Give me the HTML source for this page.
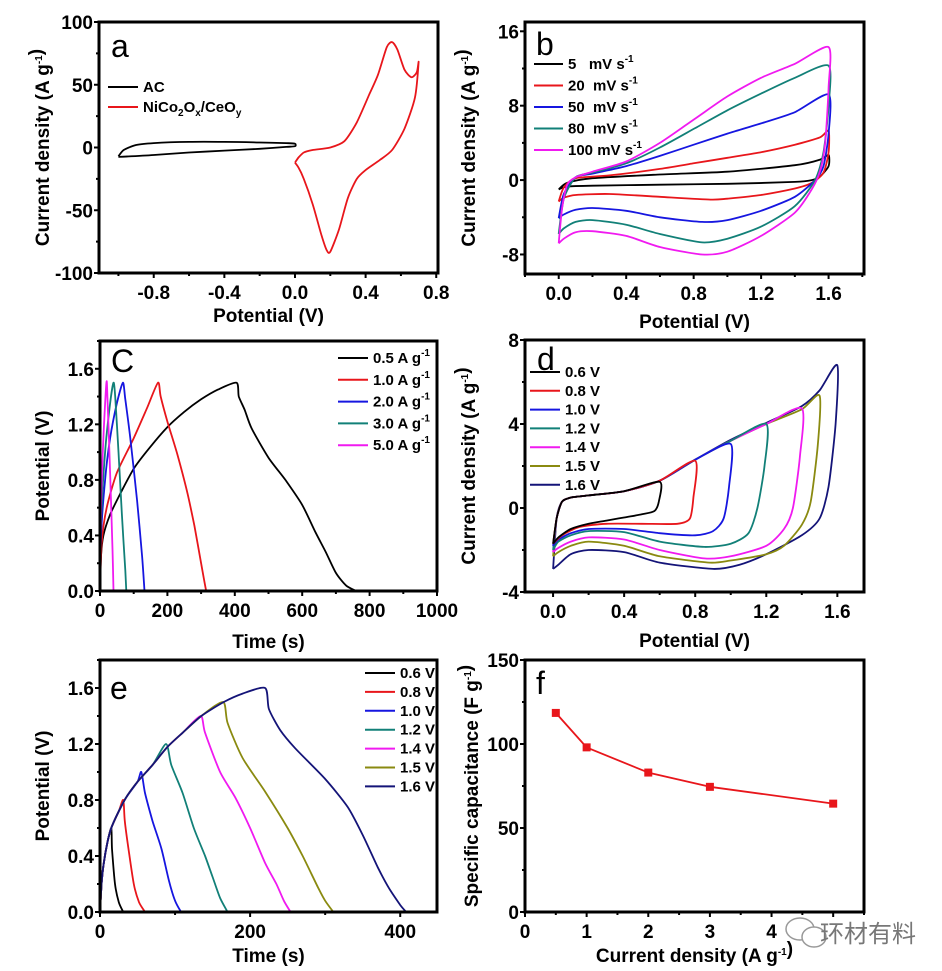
<!DOCTYPE html>
<html><head><meta charset="utf-8">
<style>
html,body{margin:0;padding:0;background:#fff;}
svg{display:block;font-family:"Liberation Sans",Arial,sans-serif;}
.tk{font-weight:bold;font-size:19px;fill:#000;}
.tt{font-weight:bold;font-size:19px;fill:#000;}
.lg{font-weight:bold;font-size:15px;fill:#000;}
.pl{font-size:32px;fill:#000;}
</style></head>
<body>
<svg id="fig" width="942" height="971" viewBox="0 0 942 971" xmlns="http://www.w3.org/2000/svg"></svg>
<script>
// ---------- data ----------
// Panel a
const aACx=[-1.0,-0.97,-0.9,-0.8,-0.6,-0.4,-0.2,-0.05,0,0,-0.05,-0.2,-0.4,-0.6,-0.8,-1.0];
const aACy=[-7,-2,2,3.5,4.5,4.5,4,3.5,3,1,0.5,-1,-2.5,-4,-6,-7.5];
const aNiX=[0,0.02,0.05,0.1,0.2,0.28,0.35,0.42,0.47,0.52,0.55,0.58,0.62,0.66,0.69,0.70,0.68,0.62,0.55,0.48,0.40,0.35,0.30,0.25,0.2,0.18,0.15,0.1,0.05,0.02,0];
const aNiY=[-12,-8,-4,-2,0,5,20,42,58,80,84,78,62,56,60,68,40,15,-2,-10,-18,-25,-40,-65,-83,-82,-70,-45,-25,-16,-12];
// Panel b
const b5x=[0,0.05,0.2,0.6,1.0,1.4,1.55,1.6,1.6,1.55,1.5,1.4,1.0,0.6,0.2,0.05,0];
const b5y=[-1,-0.3,0.2,0.6,0.9,1.6,2.2,2.7,1.5,0.4,0,-0.2,-0.4,-0.5,-0.6,-0.7,-1];
const b20x=[0,0.03,0.1,0.3,0.6,0.8,1.0,1.2,1.4,1.55,1.6,1.6,1.57,1.5,1.4,1.2,1.0,0.9,0.6,0.3,0.1,0.03,0];
const b20y=[-2.3,-0.8,0.2,0.5,1.2,1.8,2.4,3,3.8,4.6,5.3,3,0.8,-0.3,-0.9,-1.6,-2,-2.1,-1.8,-1.5,-1.6,-1.9,-2.3];
const b50x=[0,0.03,0.1,0.2,0.4,0.6,0.8,1.0,1.2,1.4,1.6,1.6,1.57,1.52,1.4,1.2,1.0,0.85,0.6,0.4,0.2,0.1,0.03,0];
const b50y=[-4.1,-1.5,0.3,0.7,1.5,2.6,3.8,5,6.1,7.3,9.2,5,1.5,0,-1.8,-3.3,-4.3,-4.5,-4,-3.3,-3,-3.2,-3.7,-4.1];
const b80x=[0,0.03,0.1,0.2,0.4,0.6,0.8,1.0,1.2,1.4,1.6,1.6,1.57,1.52,1.4,1.2,1.0,0.85,0.6,0.4,0.2,0.1,0.03,0];
const b80y=[-5.8,-2,0.3,0.8,1.8,3.5,5.5,7.5,9.3,11,12.3,8,3,0,-2.8,-5,-6.3,-6.7,-5.8,-4.8,-4.3,-4.5,-5.2,-5.8];
const b100x=[0,0.02,0.05,0.1,0.2,0.4,0.6,0.8,1.0,1.2,1.4,1.6,1.6,1.58,1.55,1.5,1.4,1.2,1.0,0.85,0.6,0.4,0.2,0.1,0.03,0];
const b100y=[-6.8,-3,-0.5,0.3,0.9,2,4,6.5,9,11,12.5,14.3,10,4,1,-1,-3.5,-6,-7.7,-8,-7.2,-6,-5.5,-5.6,-6.3,-6.8];
// Panel c
const cBx=[0,3,10,30,60,100,150,200,250,300,350,405,412,430,450,500,550,600,640,670,700,730,760];
const cBy=[0,0.25,0.4,0.55,0.7,0.88,1.04,1.18,1.29,1.38,1.45,1.5,1.4,1.3,1.17,0.96,0.8,0.62,0.42,0.28,0.13,0.04,0];
const cRx=[0,5,20,50,100,140,172,180,200,230,260,280,300,315];
const cRy=[0,0.35,0.6,0.85,1.1,1.32,1.5,1.4,1.22,0.98,0.7,0.47,0.2,0];
const cBlx=[0,3,15,30,50,68,75,90,110,125,132];
const cBly=[0,0.4,0.8,1.1,1.35,1.5,1.38,1.1,0.65,0.25,0];
const cTx=[0,3,15,30,40,45,55,65,75,78];
const cTy=[0,0.5,1.0,1.35,1.5,1.4,1.0,0.55,0.15,0];
const cMx=[0,3,10,19,22,30,37,40];
const cMy=[0,0.6,1.1,1.5,1.4,0.85,0.3,0];
// Panel d
const d06x=[0,0.02,0.05,0.1,0.2,0.4,0.6,0.595,0.57,0.5,0.4,0.3,0.2,0.1,0.03,0];
const d06y=[-1.7,-0.5,0.3,0.5,0.6,0.8,1.25,0.3,-0.15,-0.3,-0.45,-0.6,-0.75,-1.0,-1.4,-1.7];
const d08x=[0,0.02,0.05,0.1,0.2,0.4,0.6,0.8,0.79,0.77,0.7,0.5,0.3,0.15,0.05,0];
const d08y=[-1.7,-0.5,0.3,0.5,0.6,0.8,1.3,2.25,0.5,-0.5,-0.75,-0.75,-0.75,-0.9,-1.3,-1.7];
const d10x=[0,0.02,0.05,0.1,0.2,0.4,0.6,0.8,1.0,0.99,0.96,0.9,0.8,0.6,0.4,0.2,0.1,0.03,0];
const d10y=[-1.8,-0.5,0.3,0.5,0.6,0.8,1.3,2.3,3.05,1,-0.5,-1.1,-1.3,-1.2,-1,-1,-1.2,-1.5,-1.8];
const d12x=[0,0.02,0.05,0.1,0.2,0.4,0.6,0.8,1.0,1.2,1.19,1.15,1.1,1.0,0.85,0.6,0.4,0.2,0.1,0.03,0];
const d12y=[-2,-0.5,0.3,0.5,0.6,0.8,1.3,2.3,3.2,4.0,2,0,-1.2,-1.7,-1.85,-1.6,-1.15,-1.1,-1.3,-1.6,-2];
const d14x=[0,0.02,0.05,0.1,0.2,0.4,0.6,0.8,1.0,1.2,1.4,1.39,1.35,1.3,1.2,1.0,0.85,0.6,0.4,0.2,0.1,0.03,0];
const d14y=[-2.1,-0.5,0.3,0.5,0.6,0.8,1.3,2.3,3.2,4.0,4.75,2.5,0,-1,-1.8,-2.3,-2.4,-2.0,-1.5,-1.4,-1.6,-1.9,-2.1];
const d15x=[0,0.02,0.05,0.1,0.2,0.4,0.6,0.8,1.0,1.2,1.4,1.5,1.49,1.45,1.4,1.3,1.2,1.0,0.88,0.6,0.4,0.2,0.1,0.03,0];
const d15y=[-2.3,-0.5,0.3,0.5,0.6,0.8,1.3,2.3,3.2,4.0,4.7,5.35,3,0.3,-0.8,-1.8,-2.2,-2.5,-2.6,-2.3,-1.8,-1.6,-1.8,-2.1,-2.3];
const d16x=[0,0.02,0.05,0.1,0.2,0.4,0.6,0.8,1.0,1.2,1.4,1.5,1.6,1.59,1.55,1.5,1.4,1.2,1.05,0.9,0.6,0.4,0.2,0.1,0.03,0];
const d16y=[-2.9,-0.5,0.3,0.5,0.6,0.8,1.3,2.3,3.25,4.05,4.85,5.6,6.8,4,1,-0.5,-1.3,-2.2,-2.7,-2.9,-2.6,-2.1,-2.0,-2.2,-2.7,-2.9];
// Panel e
const eChT=[0,2,5,10,15,25,35,50,70,90,110,135,165,190,220];
const eChV=[0,0.2,0.35,0.5,0.6,0.72,0.82,0.93,1.05,1.18,1.28,1.4,1.5,1.56,1.6];
const e06t=[15,16,20,25,31], e06v=[0.6,0.45,0.2,0.07,0];
const e08t=[31,33,38,45,52,60], e08v=[0.8,0.65,0.45,0.2,0.07,0];
const e10t=[55,60,70,82,92,100,108], e10v=[1.0,0.85,0.65,0.45,0.22,0.08,0];
const e12t=[88,95,110,125,140,150,160,170], e12v=[1.2,1.05,0.85,0.6,0.4,0.25,0.1,0];
const e14t=[134,140,160,180,200,220,235,245,254], e14v=[1.4,1.28,1.0,0.82,0.6,0.35,0.2,0.08,0];
const e15t=[164,170,190,220,250,270,290,300,311], e15v=[1.5,1.35,1.1,0.86,0.6,0.4,0.18,0.08,0];
const e16t=[220,225,240,260,300,330,350,370,385,400,408], e16v=[1.6,1.45,1.3,1.17,0.95,0.75,0.55,0.32,0.17,0.05,0];
// Panel f
const fX=[0.5,1,2,3,5];
const fY=[118.5,98,83,74.5,64.5];

// ---------- drawing ----------
const NS='http://www.w3.org/2000/svg';
const svg=document.getElementById('fig');
function mk(tag,attrs,parent){const e=document.createElementNS(NS,tag);for(const k in attrs)e.setAttribute(k,attrs[k]);(parent||svg).appendChild(e);return e;}
function txt(s,x,y,cls,anchor,parent){const t=mk('text',{x:x,y:y,class:cls,'text-anchor':anchor||'start'},parent);t.textContent=s;return t;}

function panel(p){
  const g=mk('g',{});
  
  
  const sx=v=>p.x0+(v-p.xmin)/(p.xmax-p.xmin)*(p.x1-p.x0);
  const sy=v=>p.y1-(v-p.ymin)/(p.ymax-p.ymin)*(p.y1-p.y0);
  p.sx=sx;p.sy=sy;p.g=g;
  const xt=mk('g',{},g);
  
  
  for(let v=p.xmmin;v<=p.xmax+1e-9;v+=p.xminor){
    const X=sx(v);const major=Math.abs(((v-p.xmaj0)/p.xmajor)-Math.round((v-p.xmaj0)/p.xmajor))<1e-6;
    mk('line',{x1:X,x2:X,y1:p.y1,y2:p.y1+(major?5:3),stroke:'#000','stroke-width':2},xt);
  }
  p.xlabels.forEach(l=>txt(l,sx(parseFloat(l)),p.y1+26,'tk','middle',xt));
  const yt=mk('g',{},g);
  
  
  for(let v=p.ymmin;v<=p.ymax+1e-9;v+=p.yminor){
    const Y=sy(v);const major=Math.abs(((v-p.ymaj0)/p.ymajor)-Math.round((v-p.ymaj0)/p.ymajor))<1e-6;
    mk('line',{x1:p.x0-(major?5:3),x2:p.x0,y1:Y,y2:Y,stroke:'#000','stroke-width':2},yt);
  }
  p.ylabels.forEach(l=>txt(l,p.x0-6,sy(parseFloat(l))+7,'tk','end',yt));
  const xtl=txt('',(p.x0+p.x1)/2,p.xtY,'tt','middle',g);
  xtl.innerHTML=p.xtitle;
  
  
  const ytl=txt('',0,0,'tt','middle',g);
  ytl.innerHTML=p.ytitle;
  ytl.setAttribute('transform','translate('+p.ytX+','+((p.y0+p.y1)/2)+') rotate(-90)');
  
  
  const cid='clip'+p.name;
  const cp=mk('clipPath',{id:cid},g);mk('rect',{x:p.x0,y:p.y0,width:p.x1-p.x0,height:p.y1-p.y0},cp);
  p.plot=mk('g',{'clip-path':'url(#'+cid+')'},g);
  const L=txt(p.letter,p.lx,p.ly,'pl','start',g);
  
  
  return p;
}
function frame(p){
  const r=mk('rect',{x:p.x0,y:p.y0,width:p.x1-p.x0,height:p.y1-p.y0,fill:'none',stroke:'#000','stroke-width':3},p.g);
  
  
}
function series(p,xs,ys,color,name,straight){
  const P=xs.map((x,i)=>[p.sx(x),p.sy(ys[i])]);
  let d='M'+P[0][0].toFixed(1)+','+P[0][1].toFixed(1);
  for(let i=0;i<P.length-1;i++){
    if(straight){d+='L'+P[i+1][0].toFixed(1)+','+P[i+1][1].toFixed(1);continue;}
    const p0=P[Math.max(0,i-1)],p1=P[i],p2=P[i+1],p3=P[Math.min(P.length-1,i+2)];
    const t=0.12;
    const c1=[p1[0]+(p2[0]-p0[0])*t,p1[1]+(p2[1]-p0[1])*t];
    const c2=[p2[0]-(p3[0]-p1[0])*t,p2[1]-(p3[1]-p1[1])*t];
    d+='C'+c1[0].toFixed(1)+','+c1[1].toFixed(1)+' '+c2[0].toFixed(1)+','+c2[1].toFixed(1)+' '+p2[0].toFixed(1)+','+p2[1].toFixed(1);
  }
  const e=mk('path',{d:d,fill:'none',stroke:color,'stroke-width':1.8,'stroke-linejoin':'round'},p.plot);
  
  
  return e;
}
function legend(p,items,x,y0,dy,len){
  const g=mk('g',{},p.g);
  
  
  items.forEach((it,i)=>{
    const y=y0+i*dy;
    const le=mk('g',{},g);
    
    
    mk('line',{x1:x,x2:x+len,y1:y,y2:y,stroke:it[1],'stroke-width':2},le);
    const t=txt('',x+len+5,y+5,'lg','start',le);t.innerHTML=it[0];
  });
}
const SUP='<tspan dy="-7" font-size="10">-1</tspan><tspan dy="7"></tspan>';

const pa=panel({name:'panel-a',x0:99,x1:438,y0:22,y1:273,xmin:-1.11,xmax:0.81,ymin:-100,ymax:100,
 xmmin:-1.0,xminor:0.2,xmaj0:0,xmajor:0.4,ymmin:-100,yminor:25,ymaj0:0,ymajor:50,
 xlabels:['-0.8','-0.4','0.0','0.4','0.8'],ylabels:['100','50','0','-50','-100'],
 xtitle:'Potential (V)',xtY:322,ytitle:'Current density (A g'+SUP+')',ytX:49,letter:'a',lx:111,ly:57});
series(pa,aACx,aACy,'#000','series-ac');
series(pa,aNiX,aNiY,'#e8161b','series-nico2ox-ceoy');
legend(pa,[['AC','#000'],['NiCo<tspan font-size="10" dy="4">2</tspan><tspan dy="-4">O</tspan><tspan font-size="10" dy="4">x</tspan><tspan dy="-4">/CeO</tspan><tspan font-size="10" dy="4">y</tspan>','#e8161b']],108,87,20,30);
frame(pa);

const pb=panel({name:'panel-b',x0:525,x1:864,y0:22,y1:274,xmin:-0.2,xmax:1.81,ymin:-10.1,ymax:17,
 xmmin:-0.2,xminor:0.2,xmaj0:0,xmajor:0.4,ymmin:-8,yminor:4,ymaj0:0,ymajor:8,
 xlabels:['0.0','0.4','0.8','1.2','1.6'],ylabels:['16','8','0','-8'],
 xtitle:'Potential (V)',xtY:328,ytitle:'Current density (A g'+SUP+')',ytX:475,letter:'b',lx:536,ly:55});
series(pb,b5x,b5y,'#000','series-5mv');
series(pb,b20x,b20y,'#e8161b','series-20mv');
series(pb,b50x,b50y,'#1616e0','series-50mv');
series(pb,b80x,b80y,'#128078','series-80mv');
series(pb,b100x,b100y,'#f01af0','series-100mv');
legend(pb,[['5&#160;&#160; mV s'+SUP,'#000'],['20&#160; mV s'+SUP,'#e8161b'],['50&#160; mV s'+SUP,'#1616e0'],['80&#160; mV s'+SUP,'#128078'],['100 mV s'+SUP,'#f01af0']],534,64,21.5,29);
frame(pb);

const pc=panel({name:'panel-c',x0:100,x1:437,y0:341,y1:591,xmin:0,xmax:1000,ymin:0,ymax:1.8,
 xmmin:0,xminor:100,xmaj0:0,xmajor:200,ymmin:0,yminor:0.2,ymaj0:0,ymajor:0.4,
 xlabels:['0','200','400','600','800','1000'],ylabels:['0.0','0.4','0.8','1.2','1.6'],
 xtitle:'Time (s)',xtY:648,ytitle:'Potential (V)',ytX:49,letter:'C',lx:111,ly:372});
series(pc,cBx,cBy,'#000','series-0.5a');
series(pc,cRx,cRy,'#e8161b','series-1.0a');
series(pc,cBlx,cBly,'#1616e0','series-2.0a');
series(pc,cTx,cTy,'#128078','series-3.0a');
series(pc,cMx,cMy,'#f01af0','series-5.0a');
legend(pc,[['0.5 A g'+SUP,'#000'],['1.0 A g'+SUP,'#e8161b'],['2.0 A g'+SUP,'#1616e0'],['3.0 A g'+SUP,'#128078'],['5.0 A g'+SUP,'#f01af0']],338,358,21.8,30);
frame(pc);

const pd=panel({name:'panel-d',x0:525,x1:864,y0:340,y1:592,xmin:-0.158,xmax:1.75,ymin:-4,ymax:8,
 xmmin:-0.0,xminor:0.2,xmaj0:0,xmajor:0.4,ymmin:-4,yminor:2,ymaj0:0,ymajor:4,
 xlabels:['0.0','0.4','0.8','1.2','1.6'],ylabels:['8','4','0','-4'],
 xtitle:'Potential (V)',xtY:647,ytitle:'Current density (A g'+SUP+')',ytX:475,letter:'d',lx:537,ly:370});
series(pd,d16x,d16y,'#141478','series-1.6v');
series(pd,d15x,d15y,'#8a8a10','series-1.5v');
series(pd,d14x,d14y,'#f01af0','series-1.4v');
series(pd,d12x,d12y,'#128078','series-1.2v');
series(pd,d10x,d10y,'#1616e0','series-1.0v');
series(pd,d08x,d08y,'#e8161b','series-0.8v');
series(pd,d06x,d06y,'#000','series-0.6v');
legend(pd,[['0.6 V','#000'],['0.8 V','#e8161b'],['1.0 V','#1616e0'],['1.2 V','#128078'],['1.4 V','#f01af0'],['1.5 V','#8a8a10'],['1.6 V','#141478']],530,372,18.8,30);
frame(pd);

const pe=panel({name:'panel-e',x0:100,x1:437,y0:660,y1:912,xmin:0,xmax:449,ymin:0,ymax:1.8,
 xmmin:0,xminor:100,xmaj0:0,xmajor:200,ymmin:0,yminor:0.2,ymaj0:0,ymajor:0.4,
 xlabels:['0','200','400'],ylabels:['0.0','0.4','0.8','1.2','1.6'],
 xtitle:'Time (s)',xtY:962,ytitle:'Potential (V)',ytX:49,letter:'e',lx:110,ly:699});
function eSeries(dt,dv,color,name){
  const xs=[],ys=[];
  for(let i=0;i<eChT.length;i++){if(eChT[i]<dt[0]){xs.push(eChT[i]);ys.push(eChV[i]);}}
  series(pe,xs.concat(dt),ys.concat(dv),color,name);
}
eSeries(e06t,e06v,'#000','series-0.6v');
eSeries(e08t,e08v,'#e8161b','series-0.8v');
eSeries(e10t,e10v,'#1616e0','series-1.0v');
eSeries(e12t,e12v,'#128078','series-1.2v');
eSeries(e14t,e14v,'#f01af0','series-1.4v');
eSeries(e15t,e15v,'#8a8a10','series-1.5v');
eSeries(e16t,e16v,'#141478','series-1.6v');
legend(pe,[['0.6 V','#000'],['0.8 V','#e8161b'],['1.0 V','#1616e0'],['1.2 V','#128078'],['1.4 V','#f01af0'],['1.5 V','#8a8a10'],['1.6 V','#141478']],365,673,18.9,30);
frame(pe);

const pf=panel({name:'panel-f',x0:525,x1:864,y0:660,y1:912,xmin:0,xmax:5.5,ymin:0,ymax:150,
 xmmin:0,xminor:0.5,xmaj0:0,xmajor:1,ymmin:0,yminor:25,ymaj0:0,ymajor:50,
 xlabels:['0','1','2','3','4'],ylabels:['0','50','100','150'],
 xtitle:'Current density (A g'+SUP+')',xtY:962,ytitle:'Specific capacitance (F g'+SUP+')',ytX:478,letter:'f',lx:536,ly:694});
series(pf,fX,fY,'#e8161b','capacitance-line',true);
fX.forEach((v,i)=>{
  const m=mk('rect',{x:pf.sx(v)-4,y:pf.sy(fY[i])-4,width:8,height:8,fill:'#e8161b'},pf.plot);
  
  
});
frame(pf);

const wm=mk('g',{});


mk('ellipse',{cx:800,cy:929,rx:14,ry:11,fill:'none',stroke:'#999','stroke-width':1.5},wm);
mk('ellipse',{cx:814,cy:937,rx:12,ry:10,fill:'#fff',stroke:'#999','stroke-width':1.5},wm);
const wt=txt('环材有料',820,942,'','start',wm);
wt.setAttribute('style','font-family:"Liberation Sans","Noto Sans CJK SC",sans-serif;font-size:24px;fill:#777;');
</script>
</body></html>
